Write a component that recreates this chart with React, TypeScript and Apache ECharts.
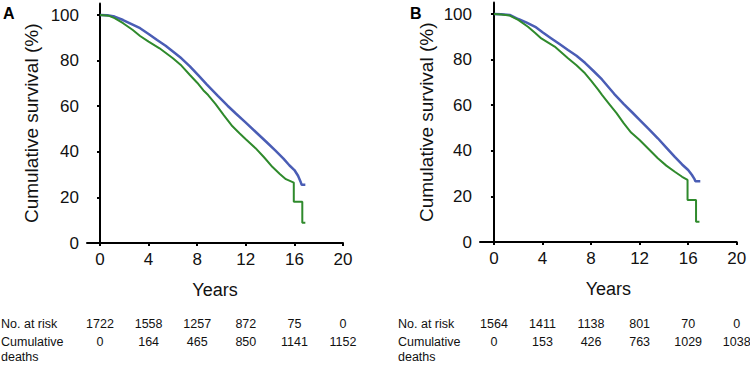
import React, { useEffect, useRef } from "react";
import * as echarts from "echarts";

const tickYears = [0, 4, 8, 12, 16, 20];
const yTicks = [0, 20, 40, 60, 80, 100];

const panelABlue: [number, number][] = [
  [0, 100], [0.6, 99.9], [1.2, 99.3], [1.9, 97.8], [2.6, 96], [3.3, 94.2], [4, 91.7], [4.7, 89],
  [5.4, 86.5], [6, 84], [6.7, 81], [7.4, 77.5], [8.1, 73.5], [8.8, 69.5], [9.7, 64.5], [10.5, 60.2],
  [11.2, 56.7], [12, 52.8], [12.8, 48.8], [13.7, 44.3], [14.4, 40.7], [15.1, 37], [15.6, 34],
  [16, 32], [16.3, 29.5], [16.5, 27], [16.6, 25.5], [16.9, 25.5],
];
const panelAGreen: [number, number][] = [
  [0, 100], [0.7, 99.7], [1.2, 98.6], [1.9, 96.4], [2.7, 93.4], [3.3, 90.8], [4, 88.3], [4.9, 85.4],
  [6, 81], [6.7, 77.8], [7.4, 73.7], [8, 70.3], [8.5, 67], [8.9, 64.9], [9.5, 61], [10.2, 56],
  [10.9, 51.2], [11.5, 48], [12, 45.5], [12.8, 41.6], [13.5, 37.6], [14.2, 33.3], [14.8, 30.3],
  [15.3, 28], [15.95, 26.5], [15.95, 18.1], [16.65, 18.1], [16.65, 8.9], [16.9, 8.9],
];
const panelBBlue: [number, number][] = [
  [0, 100], [0.6, 99.9], [1.3, 99.6], [2, 97.8], [2.7, 96.2], [3.4, 94.4], [4, 92], [4.7, 89.4],
  [5.4, 86.8], [6.1, 84.2], [6.8, 81.7], [7.5, 78.6], [8.2, 75], [8.9, 71.3], [9.9, 65],
  [10.7, 60.5], [11.4, 56.8], [12, 53.6], [12.7, 49.8], [13.5, 45.5], [14.2, 41.4], [14.9, 37.3],
  [15.5, 34], [16, 31.6], [16.3, 29.5], [16.5, 27.8], [16.6, 26.6], [17, 26.6],
];
const panelBGreen: [number, number][] = [
  [0, 100], [0.6, 99.8], [1.3, 99.3], [2, 97.4], [2.8, 94.4], [3.4, 91.7], [3.9, 89.3], [5, 85.7],
  [6.1, 80.6], [6.8, 77.5], [7.5, 74], [8, 70.8], [8.6, 66.7], [8.9, 64.5], [9.5, 60.5],
  [10.1, 56.5], [10.7, 52], [11.3, 48], [12, 44.7], [12.7, 41], [13.5, 36.7], [14.2, 33.5],
  [14.9, 30.8], [15.5, 28.6], [15.95, 27.2], [15.95, 18.4], [16.65, 18.4], [16.65, 8.9], [16.93, 8.9],
];

const atRiskA = ["1722", "1558", "1257", "872", "75", "0"];
const deathsA = ["0", "164", "465", "850", "1141", "1152"];
const atRiskB = ["1564", "1411", "1138", "801", "70", "0"];
const deathsB = ["0", "153", "426", "763", "1029", "1038"];

const FONT = "'Liberation Sans', Arial, sans-serif";
const BLUE = "#4a5db5";
const GREEN = "#2f8a2c";

function xAxisFor(gridIndex: number, min: number) {
  return {
    type: "value" as const,
    gridIndex,
    min,
    max: 20,
    name: "Years",
    nameLocation: "middle" as const,
    nameGap: 38,
    nameTextStyle: { fontSize: 18, color: "#111", fontFamily: FONT },
    axisLine: { show: true, onZero: false, lineStyle: { color: "#000", width: 2 } },
    axisTick: { show: true, length: 3, lineStyle: { color: "#000", width: 2 }, customValues: tickYears },
    axisLabel: { fontSize: 17, color: "#111", fontFamily: FONT, margin: 8, customValues: tickYears },
    splitLine: { show: false },
  };
}

function yAxisFor(gridIndex: number, gap: number) {
  return {
    type: "value" as const,
    gridIndex,
    min: 0,
    max: 105,
    name: "Cumulative survival (%)",
    nameLocation: "middle" as const,
    nameGap: gap,
    nameTextStyle: { fontSize: 19, color: "#111", fontFamily: FONT },
    axisLine: { show: true, lineStyle: { color: "#000", width: 2 } },
    axisTick: { show: true, length: 3, lineStyle: { color: "#000", width: 2 }, customValues: yTicks },
    axisLabel: { fontSize: 17, color: "#111", fontFamily: FONT, margin: 8, customValues: yTicks },
    splitLine: { show: false },
  };
}

function lineSeries(data: [number, number][], color: string, idx: number, width: number) {
  return {
    type: "line" as const,
    xAxisIndex: idx,
    yAxisIndex: idx,
    data,
    showSymbol: false,
    symbol: "none",
    lineStyle: { color, width },
    itemStyle: { color },
  };
}

export default function App() {
  const ref = useRef<HTMLDivElement>(null);
  useEffect(() => {
    document.body.style.margin = "0";
    const chart = echarts.init(ref.current!, null, { renderer: "svg" });
    chart.setOption({
      animation: false,
      backgroundColor: "#fff",
      grid: [
        { left: 87, top: 3.6, width: 256, height: 239.4 },
        { left: 480, top: 2.6, width: 256.7, height: 239.4 },
      ],
      xAxis: [xAxisFor(0, -1.07), xAxisFor(1, -1.15)],
      yAxis: [yAxisFor(0, 46), yAxisFor(1, 44)],
      series: [
        lineSeries(panelABlue, BLUE, 0, 2.5),
        lineSeries(panelAGreen, GREEN, 0, 2),
        lineSeries(panelBBlue, BLUE, 1, 2.5),
        lineSeries(panelBGreen, GREEN, 1, 2),
      ],
    });

    const txt = (x: number, y: number, text: string, align: string, extra: any = {}) => ({
      type: "text",
      x,
      y,
      style: {
        text,
        fill: "#111",
        font: `12.5px ${FONT}`,
        textAlign: align,
        textVerticalAlign: "middle",
        ...extra,
      },
    });

    const graphics: any[] = [];
    const panels = [
      { idx: 0, risk: atRiskA, deaths: deathsA, labelX: 1, letter: "A", letterX: 3 },
      { idx: 1, risk: atRiskB, deaths: deathsB, labelX: 398, letter: "B", letterX: 410 },
    ];
    panels.forEach((p) => {
      graphics.push({
        type: "text",
        x: p.letterX,
        y: 5,
        style: { text: p.letter, fill: "#000", font: `bold 16px ${FONT}`, textAlign: "left", textVerticalAlign: "top" },
      });
      graphics.push(txt(p.labelX, 324, "No. at risk", "left"));
      graphics.push(txt(p.labelX, 342, "Cumulative", "left"));
      graphics.push(txt(p.labelX, 357, "deaths", "left"));
      tickYears.forEach((yr, i) => {
        const px = chart.convertToPixel({ xAxisIndex: p.idx }, yr) as number;
        graphics.push(txt(px, 324, p.risk[i], "center"));
        graphics.push(txt(px, 342, p.deaths[i], "center"));
      });
    });
    chart.setOption({ graphic: graphics });
    return () => chart.dispose();
  }, []);
  return (
    <div
      ref={ref}
      style={{ position: "absolute", left: 0, top: 0, width: 750, height: 379 }}
    />
  );
}
